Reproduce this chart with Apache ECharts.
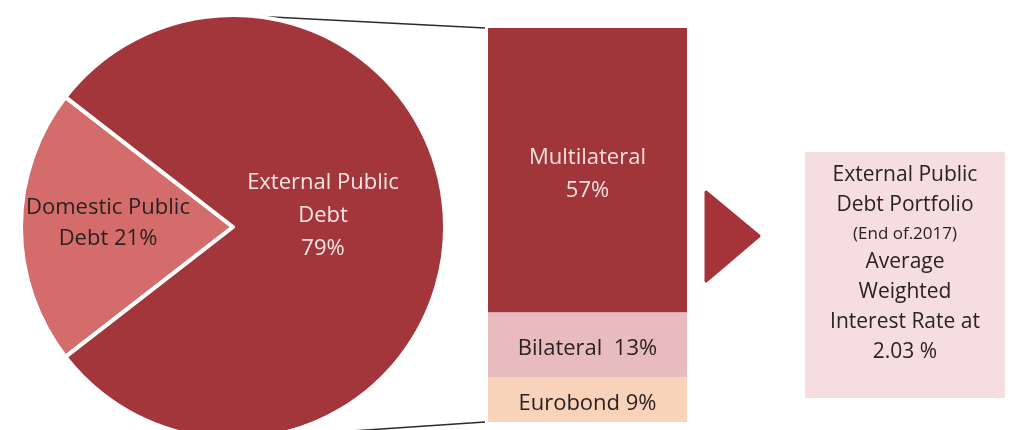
<!DOCTYPE html>
<html>
<head>
<meta charset="utf-8">
<script src="https://cdn.jsdelivr.net/npm/echarts@6/dist/echarts.min.js"></script>
<style>
  html, body { margin: 0; padding: 0; background: #ffffff; }
  #chart { width: 1011px; height: 430px; }
</style>
</head>
<body>
<div id="chart"></div>
<script>
// Public debt split (share of total, %)
const pieNames = ['Domestic Public Debt', 'External Public Debt'];
const pieShares = [21, 79];

// External public debt by creditor (share of total, %), stacked bottom to top
const barNames = ['Eurobond', 'Bilateral', 'Multilateral'];
const barShares = [9, 13, 57];

// Note box text
const noteLines = ['External Public', 'Debt Portfolio', '(End of.2017)', 'Average', 'Weighted', 'Interest Rate at'];
const avgRate = [2.03];

const FONT = '"Open Sans"';
const DARK = '#2a2222';

// layout
const pieCenter = [233, 227];
const pieRadius = 212;
const barBox = { left: 488, top: 28, width: 199, height: 394 };

const pieColors = ['#d46c6b', '#a3363a'];
const barColors = ['#f9d3b9', '#e8bcbf', '#a0353a'];

const externalTotal = barShares.reduce((a, b) => a + b, 0);

// Domestic slice centred on the left side
const startAngle = 180 + pieShares[0] * 360 / 100 / 2;

const pieLabels = [
  { formatter: 'Domestic Public\nDebt {c}%', color: DARK, lineHeight: 31 },
  { formatter: 'External Public\nDebt\n{c}%', color: '#f6e6e4', lineHeight: 33 }
];
const pieLabelShift = [{ dx: -16, dy: -4 }, { dx: -19, dy: -11 }];

const barLabels = [
  { formatter: '{a} {c}%', color: DARK, lineHeight: 24 },
  { formatter: '{a}  {c}%', color: DARK, lineHeight: 24 },
  { formatter: '{a}\n{c}%', color: '#f4e2e0', lineHeight: 33 }
];

const chart = echarts.init(document.getElementById('chart'), null, { renderer: 'canvas' });

const barSeries = barNames.map((name, i) => ({
  name: name,
  type: 'bar',
  stack: 'external',
  barWidth: '100%',
  data: [barShares[i]],
  itemStyle: { color: barColors[i] },
  label: {
    show: true,
    position: 'inside',
    offset: [0, 4],
    formatter: barLabels[i].formatter,
    color: barLabels[i].color,
    fontFamily: FONT,
    fontSize: 22,
    lineHeight: barLabels[i].lineHeight
  },
  silent: true
}));

const topStart = [pieCenter[0], pieCenter[1] - pieRadius];
const botStart = [pieCenter[0], pieCenter[1] + pieRadius];
const barTopLeft = [barBox.left - 3, barBox.top];
const barBotLeft = [barBox.left - 3, barBox.top + barBox.height];

const noteText = noteLines.map((t, i) => (i === 2 ? '{s|' + t + '}' : '{a|' + t + '}')).join('\n')
  + '\n{a|' + avgRate[0].toFixed(2) + ' %}';

chart.setOption({
  animation: false,
  backgroundColor: '#ffffff',
  grid: { left: barBox.left, top: barBox.top, width: barBox.width, height: barBox.height },
  xAxis: { type: 'category', data: ['External'], show: false },
  yAxis: { type: 'value', min: 0, max: externalTotal, show: false },
  graphic: [
    {
      type: 'line', z: 0,
      shape: { x1: topStart[0], y1: topStart[1], x2: barTopLeft[0], y2: barTopLeft[1] },
      style: { stroke: '#2b2b2b', lineWidth: 1.5 }
    },
    {
      type: 'line', z: 0,
      shape: { x1: botStart[0], y1: botStart[1], x2: barBotLeft[0], y2: barBotLeft[1] },
      style: { stroke: '#2b2b2b', lineWidth: 1.5 }
    },
    {
      type: 'polygon',
      shape: { points: [[706, 192], [759, 236], [706, 281]] },
      style: { fill: '#a5333a', stroke: '#a5333a', lineWidth: 3, lineJoin: 'round' }
    },
    {
      type: 'rect',
      shape: { x: 805, y: 152, width: 200, height: 246 },
      style: { fill: '#f7dede' }
    },
    {
      type: 'text',
      x: 905, y: 264,
      style: {
        text: noteText,
        align: 'center',
        verticalAlign: 'middle',
        fill: DARK,
        fontFamily: FONT,
        rich: {
          a: { fontSize: 21, lineHeight: 30, fontFamily: FONT, fill: DARK },
          s: { fontSize: 17, lineHeight: 27, fontFamily: FONT, fill: DARK }
        }
      }
    }
  ],
  series: [
    {
      type: 'pie',
      center: pieCenter,
      radius: pieRadius,
      startAngle: startAngle,
      clockwise: true,
      silent: true,
      itemStyle: { borderColor: '#ffffff', borderWidth: 4 },
      labelLine: { show: false },
      label: { show: true, position: 'inside', fontFamily: FONT, fontSize: 22 },
      labelLayout: function (p) { return pieLabelShift[p.dataIndex]; },
      data: pieNames.map((name, i) => ({
        name: name,
        value: pieShares[i],
        itemStyle: { color: pieColors[i] },
        label: {
          formatter: pieLabels[i].formatter,
          color: pieLabels[i].color,
          lineHeight: pieLabels[i].lineHeight
        }
      }))
    }
  ].concat(barSeries)
});
</script>
</body>
</html>
